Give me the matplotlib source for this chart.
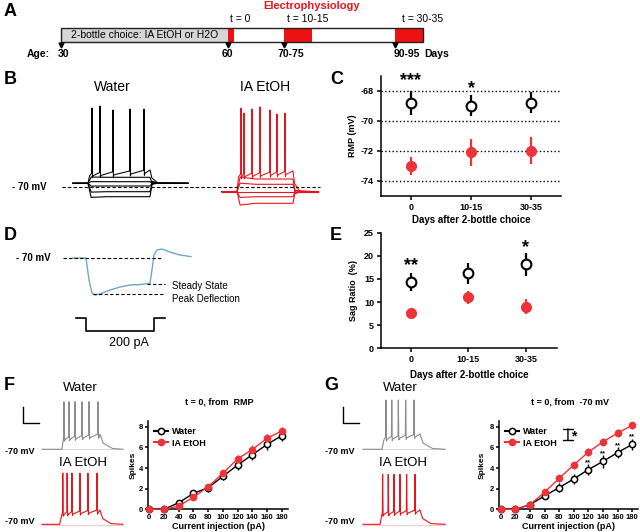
import matplotlib
matplotlib.use('Agg')
from matplotlib import pyplot as plt
from matplotlib.lines import Line2D
import numpy as np

W, H = 640, 532
RED = '#ee3338'
TRACE_RED = '#e8141c'

# ---- A: timeline (age in days) ----
drink_days = (30, 60)
timeline_end = 95
ephys_windows = [(60, 61), (70, 75), (90, 95)]
age_ticks = [30, 60, 70, 90]
age_labels = ['30', '60', '70-75', '90-95']
age_label_x = [30.5, 59.9, 71.2, 92.0]
ephys_labels = ['t = 0', 't = 10-15', 't = 30-35']
ephys_label_x = [62.2, 74.2, 94.9]

# ---- C / E: RMP and sag ratio ----
days_after = ['0', '10-15', '30-35']
rmp_water = [-68.8, -69.0, -68.8]
rmp_water_err = [0.8, 0.7, 0.7]
rmp_etoh = [-73.0, -72.1, -72.0]
rmp_etoh_err = [0.6, 0.9, 0.9]
rmp_stars = ['***', '*', '']
rmp_star_y = [-66.95, -67.45, 0]

sag_water = [14.3, 16.2, 18.2]
sag_water_err = [1.9, 2.2, 2.5]
sag_etoh = [7.7, 11.0, 9.0]
sag_etoh_err = [0.7, 1.5, 1.6]
sag_stars = ['**', '', '*']
sag_star_y = [19.1, 0, 23.0]

# ---- F / G: spikes vs current ----
current = [0, 20, 40, 60, 80, 100, 120, 140, 160, 180]
f_water = [0, 0, 0.64, 1.55, 2.1, 3.2, 4.3, 5.3, 6.3, 7.15]
f_water_err = [0, 0, 0.15, 0.3, 0.4, 0.4, 0.5, 0.5, 0.5, 0.5]
f_etoh = [0, 0, 0.32, 1.17, 2.2, 3.5, 4.9, 5.8, 6.9, 7.6]
f_etoh_err = [0, 0, 0.1, 0.2, 0.3, 0.35, 0.4, 0.4, 0.4, 0.35]
g_water = [0, 0, 0.45, 1.3, 2.1, 2.95, 3.85, 4.65, 5.5, 6.3]
g_water_err = [0, 0, 0.1, 0.3, 0.45, 0.5, 0.55, 0.6, 0.55, 0.55]
g_etoh = [0, 0, 0.45, 1.65, 3.0, 4.3, 5.55, 6.55, 7.4, 8.15]
g_etoh_err = [0, 0, 0.1, 0.25, 0.35, 0.4, 0.4, 0.35, 0.35, 0.35]
g_stars = ['', '', '', '', '', '', '**', '**', '**', '**']

# ---- example traces (ms, mV) ----
b_water_rest = -66.3
b_water_step = (0, 496)
b_water_levels = [-60.3, -64.7, -69, -74.7, -79.7]
b_water_plateau = (-56, -53)
b_water_spike_t = [32, 96, 200, 336, 448]
b_water_spike_v = [9, 11, 7, 8, 8]
b_etoh_rest = -74.7
b_etoh_step = (1192, 1640)
b_etoh_levels = [-62, -67.3, -79.7, -86.3]
b_etoh_plateau = (-57, -54)
b_etoh_spike_t = [1224, 1248, 1312, 1376, 1456, 1512, 1576]
b_etoh_spike_v = [9, 4, 8, 10, 7, 3, 4]

d_t = [-140, -10, 20, 50, 80, 130, 230, 330, 430, 530, 600, 630, 650, 670, 700, 750, 830, 930, 1040]
d_v = [-70, -70, -81, -87.5, -88.5, -88, -86, -84.5, -83.5, -83.3, -82.8, -82.5, -76, -68.5,
       -66, -65.5, -67, -68.5, -69.3]
d_peak, d_steady = -88.2, -83.0
d_step_t = [-110, -13, -13, 670, 670, 780]
d_step_i = [0, 0, -200, -200, 0, 0]

ft_water_spike_t = [12, 44, 81, 125, 169, 225]
ft_water_peak = -10.5
ft_etoh_spike_t = [5, 32, 62, 112, 162, 219]
ft_etoh_peak = -6
gt_water_spike_t = [25, 61, 102, 148, 200]
gt_water_peak = -8.4
gt_etoh_spike_t = [4, 39, 75, 112, 154, 206]
gt_etoh_peak = -7.5

plt.rcParams['font.family'] = ['Liberation Sans', 'DejaVu Sans']
plt.rcParams['font.weight'] = 'bold'
plt.rcParams['axes.labelweight'] = 'bold'
plt.rcParams['axes.unicode_minus'] = False

fig = plt.figure(figsize=(6.4, 5.32), dpi=100)


def px_axes(x0, y0, x1, y1, off=True):
    ax = fig.add_axes([x0 / W, 1 - y1 / H, (x1 - x0) / W, (y1 - y0) / H])
    if off:
        ax.axis('off')
    return ax


def px_text(x, y, s, **kw):
    kw.setdefault('ha', 'left')
    kw.setdefault('va', 'center')
    fig.text(x / W, 1 - y / H, s, **kw)


def spiking(t0, on, off, t1, rest, plateau, spike_t, spike_v, decay):
    p0, p1 = plateau

    def plat(x):
        return p0 + (p1 - p0) * (x - on) / (off - on)
    t, v = [t0, on], [rest, rest]
    if spike_t[0] - on > 20:
        t.append(on + 12)
        v.append(plat(on) - 3)
    for s, pk in zip(spike_t, spike_v):
        t += [s - 2, s, s + 3, s + 8]
        v += [plat(s), pk, plat(s) - 5, plat(s) - 3]
    t += [off, off + decay * 0.25, off + decay, t1]
    v += [plat(off), rest + 0.4 * (plat(off) - rest), rest + 0.05 * (plat(off) - rest), rest]
    return t, v


def passive(t0, on, off, t1, rest, level, sag):
    d = level - rest
    t = [t0, on, on + 25, on + 150, off, off + 20, off + 60, t1]
    v = [rest, rest, rest + (1 + sag) * d, level, level, rest - 0.15 * d, rest, rest]
    return t, v


# panel letters
for s, x, y in [('A', 4, 12), ('B', 4, 79), ('C', 330, 79), ('D', 4, 236),
                ('E', 330, 236), ('F', 4, 386), ('G', 324, 386)]:
    px_text(x, y, s, fontsize=13)

# ---- A ----
axA = px_axes(0, 0, 640, 70)
axA.set_xlim(30 - 61 / 5.57, 30 + 579 / 5.57)
axA.set_ylim(70, 0)
axA.barh(35, timeline_end - drink_days[0], left=drink_days[0], height=14, color='white')
axA.barh(35, drink_days[1] - drink_days[0], left=drink_days[0], height=14, color='#d6d6d6')
for a, b in ephys_windows:
    axA.barh(35, b - a, left=a, height=14, color='#ee1111')
axA.barh(35, timeline_end - drink_days[0], left=drink_days[0], height=14, fill=False,
         edgecolor='#222222', lw=1.0)
axA.vlines(age_ticks, 42, 45, color='k', lw=0.9)
axA.plot(age_ticks, [45] * len(age_ticks), 'kv', ms=3.5)
axA.text(45, 35.5, '2-bottle choice: IA EtOH or H2O', ha='center', va='center',
         fontsize=7.5, weight='normal')
axA.text(28.0, 54, 'Age:', ha='right', va='center', fontsize=7.5)
for x, s in zip(age_label_x, age_labels):
    axA.text(x, 54, s, ha='center', va='center', fontsize=7.5)
axA.text(95.3, 54, 'Days', ha='left', va='center', fontsize=7.5)
for x, s in zip(ephys_label_x, ephys_labels):
    axA.text(x, 18.5, s, ha='center', va='center', fontsize=7.5, weight='normal')
axA.text(75, 6, 'Electrophysiology', ha='center', va='center', fontsize=8, color=TRACE_RED)

# ---- B ----
axB = px_axes(60, 95, 322, 215)
axB.set_xlim(-224, 1872)
axB.set_ylim(-98, 22)
on, off = b_water_step
for lv in b_water_levels:
    t, v = passive(-120, on, off, 800, b_water_rest, lv, 0.05)
    axB.plot(t, v, color='k', lw=0.8)
t, v = spiking(-120, on, off, 800, b_water_rest, b_water_plateau, b_water_spike_t,
               b_water_spike_v, 60)
axB.plot(t, v, color='k', lw=0.75)
on, off = b_etoh_step
for lv in b_etoh_levels:
    t, v = passive(1072, on, off, 1840, b_etoh_rest, lv, 0.15)
    axB.plot(t, v, color=TRACE_RED, lw=0.8)
axB.plot([1072, 1840], [b_etoh_rest, b_etoh_rest], color=TRACE_RED, lw=0.8)
t, v = spiking(1072, on, off, 1840, b_etoh_rest, b_etoh_plateau, b_etoh_spike_t,
               b_etoh_spike_v, 50)
axB.plot(t, v, color=TRACE_RED, lw=0.75)
axB.plot([-208, 1856], [-70, -70], color='k', lw=0.8, ls=(0, (3, 2)), zorder=5)
px_text(112, 87, 'Water', ha='center', fontsize=10, weight='normal')
px_text(265, 87, 'IA EtOH', ha='center', fontsize=10, weight='normal')
px_text(12, 187, '- 70 mV', fontsize=7)

# ---- C ----
x3 = np.arange(3)


def style(ax, fs=6.5):
    for s in ('top', 'right'):
        ax.spines[s].set_visible(False)
    for s in ('left', 'bottom'):
        ax.spines[s].set_linewidth(1.1)
    ax.tick_params(direction='out', length=3, width=1.1, labelsize=fs, pad=2)


axC = px_axes(381, 75.7, 561, 196, off=False)
style(axC)
for yv in [-74, -72, -70, -68]:
    axC.axhline(yv, color='k', ls=':', lw=1.0, zorder=1)
axC.errorbar(x3, rmp_water, yerr=rmp_water_err, fmt='o', mfc='white', mec='k', mew=1.5,
             ms=7, ecolor='k', elinewidth=1.6, capsize=0, zorder=3)
axC.errorbar(x3, rmp_etoh, yerr=rmp_etoh_err, fmt='o', color=RED, ms=7,
             elinewidth=1.6, capsize=0, zorder=3)
axC.set_xlim(-0.5, 2.5)
axC.set_ylim(-75, -67)
axC.set_yticks([-74, -72, -70, -68])
axC.set_xticks(x3)
axC.set_xticklabels(days_after)
axC.set_ylabel('RMP (mV)', fontsize=6.5)
axC.yaxis.set_label_coords(-0.135, 0.5)
axC.set_xlabel('Days after 2-bottle choice', fontsize=7)
axC.xaxis.set_label_coords(0.5, -0.155)
for i, (s, y) in enumerate(zip(rmp_stars, rmp_star_y)):
    if s:
        axC.annotate(s, (i, y), xytext=(0, -0.58 * 13), textcoords='offset points',
                     ha='center', va='baseline', fontsize=13, annotation_clip=False)

# ---- D ----
axD = px_axes(60, 240, 240, 300)
axD.set_xlim(-270, 1530)
axD.set_ylim(-91, -61)
axD.plot(d_t, d_v, color='#6fa6cf', lw=1.0)
dash = (0, (3, 2))
axD.plot([-240, 750], [-70, -70], color='k', lw=0.8, ls=dash)
axD.plot([600, 780], [d_steady, d_steady], color='k', lw=0.8, ls=dash)
axD.plot([60, 780], [d_peak, d_peak], color='k', lw=0.8, ls=dash)
axDi = px_axes(60, 308, 240, 338)
axDi.set_xlim(-270, 1530)
axDi.set_ylim(-318, 166)
axDi.plot(d_step_t, d_step_i, color='k', lw=1.2)
px_text(16, 258, '- 70 mV', fontsize=7)
px_text(172, 286, 'Steady State', fontsize=7, weight='normal')
px_text(172, 299.5, 'Peak Deflection', fontsize=7, weight='normal')
px_text(129, 343, '200 pA', ha='center', fontsize=9, weight='normal')

# ---- E ----
axE = px_axes(381, 232.7, 557, 348.3, off=False)
style(axE)
axE.errorbar(x3, sag_water, yerr=sag_water_err, fmt='o', mfc='white', mec='k', mew=1.5,
             ms=7, ecolor='k', elinewidth=1.6, capsize=0, zorder=3)
axE.errorbar(x3, sag_etoh, yerr=sag_etoh_err, fmt='o', color=RED, ms=7,
             elinewidth=1.6, capsize=0, zorder=3)
axE.set_xlim(-0.52, 2.54)
axE.set_ylim(0, 25)
axE.set_yticks([0, 5, 10, 15, 20, 25])
axE.set_xticks(x3)
axE.set_xticklabels(days_after)
axE.set_ylabel('Sag Ratio  (%)', fontsize=6.5)
axE.yaxis.set_label_coords(-0.13, 0.5)
axE.set_xlabel('Days after 2-bottle choice', fontsize=7)
axE.xaxis.set_label_coords(0.5, -0.19)
for i, (s, y) in enumerate(zip(sag_stars, sag_star_y)):
    if s:
        axE.annotate(s, (i, y), xytext=(0, -0.58 * 13), textcoords='offset points',
                     ha='center', va='baseline', fontsize=13, annotation_clip=False)


# ---- F / G traces ----
def trace_pair(x0, on_w, on_r, w_spk, w_pk, r_spk, r_pk, t0, t1):
    # water trace axes: 6.25 ms and 1.25 mV per pixel, baseline at 449.3 px
    aw = px_axes(x0 - 47, 395, x0 + 68, 460)
    aw.set_xlim(-293.75, 425)
    aw.set_ylim(-83.4, -2.1)
    aw.plot([t0, t1], [-70, -70], color='#d0d0d0', lw=0.6)
    t, v = spiking(t0, on_w, 237, t1, -70, (-55, -51), w_spk, [w_pk] * len(w_spk), 80)
    aw.plot(t, v, color='#8c8c8c', lw=0.8)
    aw.plot([-244, -244, -144], [-17, -37, -37], color='k', lw=1.0)
    ar = px_axes(x0 - 47, 468, x0 + 68, 532)
    ar.set_xlim(-293.75, 425)
    ar.set_ylim(-79.6, 0.4)
    ar.plot([t0, t1], [-71, -71], color='#f2b8b8', lw=0.6)
    t, v = spiking(t0, on_r, 237, t1, -70, (-55, -52), r_spk, [r_pk] * len(r_spk), 70)
    ar.plot(t, v, color=TRACE_RED, lw=0.8)


trace_pair(62, 0, -15, ft_water_spike_t, ft_water_peak, ft_etoh_spike_t, ft_etoh_peak, -125, 381)
trace_pair(382, 0, -12, gt_water_spike_t, gt_water_peak, gt_etoh_spike_t, gt_etoh_peak, -119, 394)
for x in (80, 400):
    px_text(x, 388, 'Water', ha='center', fontsize=9.5, weight='normal')
    px_text(x + 3, 463, 'IA EtOH', ha='center', fontsize=9.5, weight='normal')
for x in (5, 325):
    px_text(x, 452, '-70 mV', fontsize=6.5)
    px_text(x, 522, '-70 mV', fontsize=6.5)
px_text(219, 402, 't = 0, from  RMP', ha='center', fontsize=6.5)
px_text(570, 402, 't = 0, from  -70 mV', ha='center', fontsize=6.5)


def iv_axes(box, xl, water, werr, etoh, eerr):
    ax = px_axes(*box, off=False)
    style(ax, 5.5)
    ax.tick_params(length=2, pad=1.5)
    ax.errorbar(current, water, yerr=werr, fmt='-o', color='k', mfc='white', mec='k',
                mew=1.1, ms=4.5, lw=1.0, elinewidth=1.0, capsize=0, zorder=3, clip_on=False)
    ax.errorbar(current, etoh, yerr=eerr, fmt='-o', color=RED, mec=RED, ms=4.5, lw=1.0,
                elinewidth=1.0, capsize=0, zorder=4, clip_on=False)
    ax.set_xlim(*xl)
    ax.set_ylim(0, 8.57)
    ax.set_xticks(current)
    ax.set_yticks([0, 2, 4, 6, 8])
    ax.set_xlabel('Current injection (pA)', fontsize=6.5)
    ax.xaxis.set_label_coords(0.5, -0.14)
    ax.set_ylabel('Spikes', fontsize=6)
    handles = [Line2D([], [], color='k', marker='o', mfc='white', mec='k', mew=1.1, ms=4.5),
               Line2D([], [], color=RED, marker='o', mec=RED, ms=4.5)]
    ax.legend(handles, ['Water', 'IA EtOH'], loc='upper left', bbox_to_anchor=(0.02, 0.97),
              frameon=False, fontsize=6.5, handlelength=1.5, handletextpad=0.4,
              labelspacing=0.25, borderaxespad=0)
    return ax


axF = iv_axes((148, 421, 288, 509.3), (-1.8, 188.4), f_water, [f_water_err, [0] * 10],
              f_etoh, [[0] * 10, f_etoh_err])
axF.yaxis.set_label_coords(-0.08, 0.5)
axG = iv_axes((499, 421, 638, 509.3), (-2.3, 188), g_water, g_water_err, g_etoh, g_etoh_err)
axG.yaxis.set_label_coords(-0.096, 0.5)
for c, w, e, s in zip(current, g_water, g_water_err, g_stars):
    if s:
        axG.annotate(s, (c, w + e + 0.45), xytext=(0, -0.58 * 5.5), textcoords='offset points',
                     ha='center', va='baseline', fontsize=5.5)
axG.annotate('', xy=(0.496, 0.91), xytext=(0.496, 0.78), xycoords='axes fraction',
             arrowprops=dict(arrowstyle='|-|, widthA=0.35, widthB=0.35', lw=1.0, color='k',
                             shrinkA=0, shrinkB=0))
axG.text(0.535, 0.82, '*', transform=axG.transAxes, ha='center', va='center', fontsize=10)

fig.savefig('out.png', dpi=100)
